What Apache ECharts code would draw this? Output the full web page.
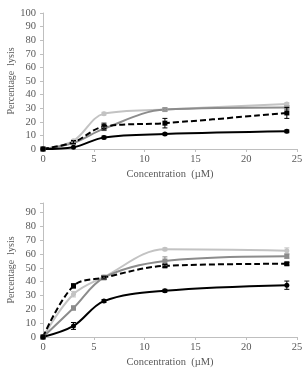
<!DOCTYPE html>
<html><head><meta charset="utf-8">
<script src="https://cdn.jsdelivr.net/npm/echarts@6/dist/echarts.min.js"></script>
<style>html,body{margin:0;padding:0;background:#fff}#c{width:307px;height:374px}</style>
</head><body><div id="c"></div>
<script>
const conc = [0, 3, 6, 12, 24];
const xTicks = [0, 5, 10, 15, 20, 25];
// top panel
const topLight = [0, 6, 26, 29, 33];
const topMid = [0, 4.5, 15, 29, 30.5];
const topDashed = [0, 5, 16.5, 19, 26.5];
const topSolid = [0, 1.3, 8.5, 11, 13];
const topLightErr = [0, 1, 1, 1, 1];
const topMidErr = [0, 1, 1, 1, 1];
const topDashedErr = [0, 1, 2.5, 3.5, 4];
const topSolidErr = [0, 0.5, 1, 0.7, 1];
// bottom panel
const botLight = [0, 31, 43.5, 63.5, 62.5];
const botMid = [0, 21, 43, 55, 58.5];
const botDashed = [0, 37, 43, 51.5, 53];
const botSolid = [0, 8, 26, 33.5, 37.5];
const botLightErr = [0, 2, 1.5, 1, 2];
const botMidErr = [0, 1.5, 1.5, 3, 1.5];
const botDashedErr = [0, 1.5, 1, 1, 1];
const botSolidErr = [0, 2.5, 1, 1, 3];

const FONT = 'Liberation Serif';
const LABEL = '#595959';
const AXIS = '#bfbfbf';
const styles = [
  {color: '#c3c3c3', symbol: 'circle', type: 'solid'},
  {color: '#8c8c8c', symbol: 'rect', type: 'solid'},
  {color: '#000000', symbol: 'rect', type: [6, 3]},
  {color: '#000000', symbol: 'circle', type: 'solid'}
];

function pairs(ys) { return conc.map((x, i) => [x, ys[i]]); }

function lineSeries(ys, st, gi) {
  return {
    type: 'line', xAxisIndex: gi, yAxisIndex: gi, data: pairs(ys),
    smooth: 0.35, symbol: st.symbol, symbolSize: 5, showSymbol: true,
    itemStyle: {color: st.color},
    lineStyle: {color: st.color, width: 2, type: st.type},
    z: 3
  };
}
function errSeries(ys, errs, st, gi) {
  return {
    type: 'custom', xAxisIndex: gi, yAxisIndex: gi,
    data: conc.map((x, i) => [x, ys[i] - errs[i], ys[i] + errs[i]]),
    renderItem: function (params, api) {
      const lo = api.coord([api.value(0), api.value(1)]);
      const hi = api.coord([api.value(0), api.value(2)]);
      if (Math.abs(hi[1] - lo[1]) < 1.5) return null;
      const w = 2.5;
      const s = {stroke: st.color, lineWidth: 1};
      return {type: 'group', children: [
        {type: 'line', shape: {x1: lo[0], y1: lo[1], x2: hi[0], y2: hi[1]}, style: s},
        {type: 'line', shape: {x1: lo[0] - w, y1: lo[1], x2: lo[0] + w, y2: lo[1]}, style: s},
        {type: 'line', shape: {x1: hi[0] - w, y1: hi[1], x2: hi[0] + w, y2: hi[1]}, style: s}
      ]};
    },
    z: 4, silent: true
  };
}

function xAx(gi) {
  return {
    type: 'value', gridIndex: gi, min: 0, max: 25, interval: 5,
    name: 'Concentration  (\u00b5M)', nameLocation: 'middle', nameGap: 20,
    nameMoveOverlap: false,
    nameTextStyle: {fontFamily: FONT, fontSize: 10.5, color: LABEL},
    axisLine: {show: true, onZero: false, lineStyle: {color: AXIS, width: 1}},
    axisTick: {show: true, length: 3, lineStyle: {color: AXIS}},
    axisLabel: {fontFamily: FONT, fontSize: 10.5, color: LABEL, margin: 5},
    splitLine: {show: false}
  };
}
function yAx(gi, max) {
  return {
    type: 'value', gridIndex: gi, min: 0, max: max, interval: 10,
    name: 'Percentage  lysis', nameLocation: 'middle', nameGap: 27,
    nameMoveOverlap: false,
    nameTextStyle: {fontFamily: FONT, fontSize: 10, color: LABEL},
    axisLine: {show: true, lineStyle: {color: AXIS, width: 1}},
    axisTick: {show: true, length: 3, lineStyle: {color: AXIS}},
    axisLabel: {fontFamily: FONT, fontSize: 10.5, color: LABEL, margin: 7,
      formatter: v => (v % 10 === 0 ? String(v) : '')},
    splitLine: {show: false}
  };
}

const topSets = [[topLight, topLightErr], [topMid, topMidErr], [topDashed, topDashedErr], [topSolid, topSolidErr]];
const botSets = [[botLight, botLightErr], [botMid, botMidErr], [botDashed, botDashedErr], [botSolid, botSolidErr]];
const series = [];
topSets.forEach((s, i) => { series.push(lineSeries(s[0], styles[i], 0)); series.push(errSeries(s[0], s[1], styles[i], 0)); });
botSets.forEach((s, i) => { series.push(lineSeries(s[0], styles[i], 1)); series.push(errSeries(s[0], s[1], styles[i], 1)); });

const chart = echarts.init(document.getElementById('c'), null, {renderer: 'canvas'});
chart.setOption({
  animation: false,
  backgroundColor: '#ffffff',
  grid: [
    {left: 43, right: 10, top: 13, height: 136, containLabel: false, outerBoundsMode: 'none'},
    {left: 43, right: 10, top: 203, height: 134, containLabel: false, outerBoundsMode: 'none'}
  ],
  xAxis: [xAx(0), xAx(1)],
  yAxis: [yAx(0, 100), yAx(1, 97)],
  series: series
});
</script></body></html>
